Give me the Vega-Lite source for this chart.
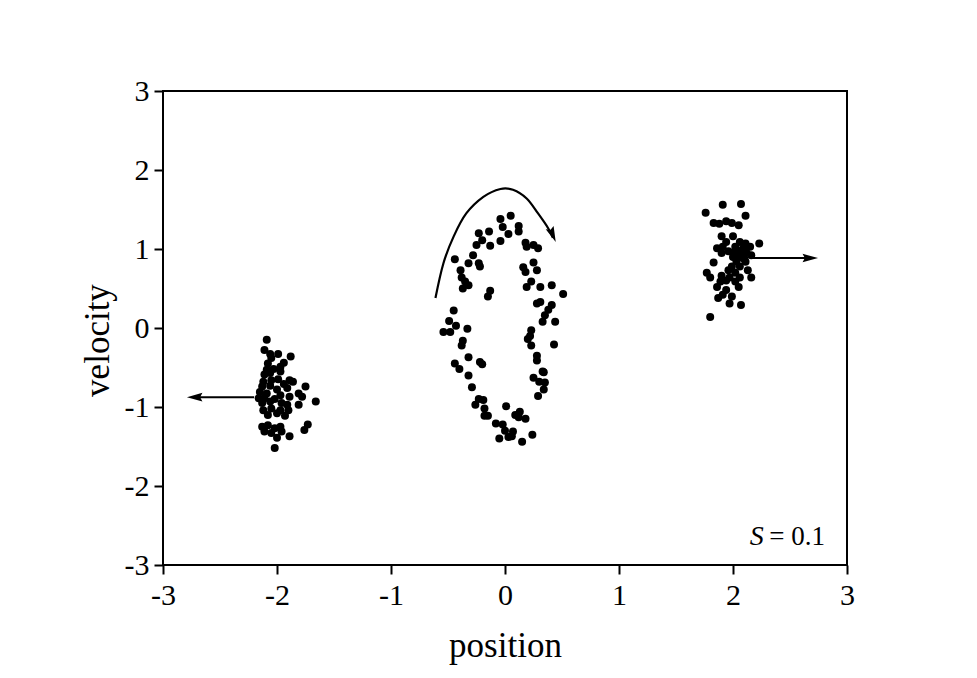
{
  "$schema": "https://vega.github.io/schema/vega-lite/v6.json",
  "width": 684,
  "height": 474,
  "autosize": "none",
  "padding": {"left": 163, "top": 91, "right": 130, "bottom": 113},
  "config": {
    "view": {"stroke": "black", "strokeWidth": 2},
    "font": "Liberation Serif"
  },
  "datasets": {
    "pts": [
      {"x":0.05,"y":1.42},{"x":-0.04,"y":1.38},{"x":-0.02,"y":1.28},{"x":0.12,"y":1.29},{"x":0.12,"y":1.22},{"x":0.03,"y":1.19},{"x":-0.14,"y":1.22},{"x":-0.23,"y":1.20},{"x":-0.20,"y":1.11},{"x":-0.04,"y":1.10},{"x":-0.25,"y":1.05},{"x":-0.13,"y":1.04},{"x":0.18,"y":1.08},{"x":0.19,"y":1.03},{"x":0.25,"y":1.05},{"x":0.29,"y":1.01},{"x":-0.28,"y":0.92},{"x":-0.44,"y":0.87},{"x":-0.32,"y":0.82},{"x":-0.23,"y":0.82},{"x":-0.22,"y":0.78},{"x":0.25,"y":0.83},{"x":0.16,"y":0.77},{"x":0.28,"y":0.73},{"x":0.18,"y":0.71},{"x":-0.39,"y":0.73},{"x":-0.38,"y":0.64},{"x":-0.35,"y":0.59},{"x":-0.32,"y":0.54},{"x":-0.37,"y":0.50},{"x":0.23,"y":0.59},{"x":0.19,"y":0.52},{"x":0.31,"y":0.52},{"x":0.41,"y":0.54},{"x":0.51,"y":0.43},{"x":-0.13,"y":0.47},{"x":-0.15,"y":0.40},{"x":-0.45,"y":0.22},{"x":0.31,"y":0.33},{"x":0.28,"y":0.31},{"x":0.41,"y":0.29},{"x":0.38,"y":0.23},{"x":0.35,"y":0.16},{"x":-0.49,"y":0.09},{"x":-0.43,"y":0.03},{"x":-0.54,"y":-0.05},{"x":-0.48,"y":-0.05},{"x":-0.33,"y":-0.01},{"x":-0.37,"y":-0.16},{"x":-0.38,"y":-0.22},{"x":-0.32,"y":-0.37},{"x":-0.44,"y":-0.45},{"x":-0.40,"y":-0.52},{"x":-0.22,"y":-0.43},{"x":-0.20,"y":-0.46},{"x":-0.32,"y":-0.60},{"x":-0.29,"y":-0.75},{"x":-0.23,"y":-0.90},{"x":-0.19,"y":-0.91},{"x":-0.26,"y":-0.97},{"x":-0.18,"y":-1.02},{"x":-0.18,"y":-1.11},{"x":-0.15,"y":-1.11},{"x":0.01,"y":-0.99},{"x":0.13,"y":-1.06},{"x":0.09,"y":-1.10},{"x":0.12,"y":-1.13},{"x":0.18,"y":-1.15},{"x":-0.08,"y":-1.21},{"x":-0.02,"y":-1.22},{"x":0.00,"y":-1.30},{"x":0.07,"y":-1.31},{"x":0.03,"y":-1.38},{"x":-0.05,"y":-1.40},{"x":0.06,"y":-1.37},{"x":0.15,"y":-1.44},{"x":0.24,"y":-1.35},{"x":0.33,"y":0.08},{"x":0.44,"y":0.08},{"x":0.23,"y":-0.03},{"x":0.22,"y":-0.10},{"x":0.20,"y":-0.14},{"x":0.23,"y":-0.22},{"x":0.43,"y":-0.21},{"x":0.28,"y":-0.35},{"x":0.28,"y":-0.41},{"x":0.33,"y":-0.55},{"x":0.34,"y":-0.56},{"x":0.25,"y":-0.63},{"x":0.30,"y":-0.68},{"x":0.35,"y":-0.69},{"x":0.34,"y":-0.78},{"x":0.29,"y":-0.86},
      {"x":-2.09,"y":-0.15},{"x":-2.11,"y":-0.28},{"x":-2.06,"y":-0.33},{"x":-1.99,"y":-0.33},{"x":-1.88,"y":-0.36},{"x":-2.05,"y":-0.38},{"x":-1.94,"y":-0.44},{"x":-2.08,"y":-0.45},{"x":-1.97,"y":-0.49},{"x":-2.09,"y":-0.53},{"x":-2.03,"y":-0.52},{"x":-2.11,"y":-0.59},{"x":-2.06,"y":-0.57},{"x":-1.97,"y":-0.55},{"x":-2.12,"y":-0.68},{"x":-2.05,"y":-0.66},{"x":-1.99,"y":-0.65},{"x":-1.89,"y":-0.66},{"x":-1.86,"y":-0.68},{"x":-2.13,"y":-0.74},{"x":-2.06,"y":-0.73},{"x":-1.94,"y":-0.71},{"x":-1.91,"y":-0.76},{"x":-1.75,"y":-0.74},{"x":-2.15,"y":-0.81},{"x":-2.09,"y":-0.83},{"x":-2.00,"y":-0.78},{"x":-1.97,"y":-0.85},{"x":-1.81,"y":-0.83},{"x":-2.16,"y":-0.89},{"x":-2.11,"y":-0.89},{"x":-2.02,"y":-0.90},{"x":-1.89,"y":-0.87},{"x":-1.78,"y":-0.87},{"x":-1.66,"y":-0.93},{"x":-2.13,"y":-0.95},{"x":-2.06,"y":-0.93},{"x":-1.96,"y":-0.95},{"x":-1.91,"y":-0.97},{"x":-1.81,"y":-0.97},{"x":-2.12,"y":-1.04},{"x":-2.05,"y":-1.02},{"x":-1.97,"y":-1.04},{"x":-1.90,"y":-1.04},{"x":-2.08,"y":-1.10},{"x":-2.00,"y":-1.08},{"x":-1.93,"y":-1.11},{"x":-2.13,"y":-1.25},{"x":-2.08,"y":-1.23},{"x":-2.02,"y":-1.27},{"x":-1.97,"y":-1.25},{"x":-1.73,"y":-1.22},{"x":-1.76,"y":-1.29},{"x":-2.11,"y":-1.31},{"x":-2.05,"y":-1.33},{"x":-1.96,"y":-1.31},{"x":-2.00,"y":-1.39},{"x":-1.89,"y":-1.37},{"x":-2.02,"y":-1.52},
      {"x":1.91,"y":1.56},{"x":2.07,"y":1.57},{"x":1.76,"y":1.46},{"x":2.11,"y":1.42},{"x":1.83,"y":1.33},{"x":1.88,"y":1.32},{"x":1.94,"y":1.35},{"x":1.99,"y":1.33},{"x":2.05,"y":1.30},{"x":1.90,"y":1.16},{"x":2.00,"y":1.16},{"x":1.94,"y":1.09},{"x":2.06,"y":1.09},{"x":2.11,"y":1.07},{"x":2.23,"y":1.07},{"x":1.86,"y":1.01},{"x":1.91,"y":1.03},{"x":2.02,"y":1.03},{"x":2.09,"y":1.01},{"x":2.15,"y":1.03},{"x":1.90,"y":0.95},{"x":1.96,"y":0.97},{"x":2.05,"y":0.97},{"x":2.12,"y":0.95},{"x":2.16,"y":0.92},{"x":2.00,"y":0.90},{"x":2.09,"y":0.90},{"x":1.83,"y":0.83},{"x":2.03,"y":0.84},{"x":2.11,"y":0.84},{"x":1.99,"y":0.78},{"x":2.06,"y":0.78},{"x":1.96,"y":0.73},{"x":2.13,"y":0.73},{"x":1.77,"y":0.70},{"x":2.02,"y":0.70},{"x":1.80,"y":0.64},{"x":1.90,"y":0.66},{"x":1.97,"y":0.64},{"x":2.06,"y":0.64},{"x":2.16,"y":0.64},{"x":1.89,"y":0.59},{"x":1.94,"y":0.60},{"x":2.02,"y":0.59},{"x":1.86,"y":0.52},{"x":2.05,"y":0.52},{"x":1.94,"y":0.48},{"x":1.91,"y":0.42},{"x":1.99,"y":0.40},{"x":1.87,"y":0.38},{"x":1.97,"y":0.31},{"x":2.07,"y":0.29},{"x":1.80,"y":0.14},{"x":2.08,"y":0.93},{"x":2.04,"y":0.88},{"x":2.10,"y":0.98},{"x":2.06,"y":0.95},{"x":2.01,"y":0.96},{"x":2.10,"y":0.87},{"x":2.03,"y":0.99}
    ],
    "arc": [
      {"o":1,"x":-0.61,"y":0.38},{"o":2,"x":-0.54,"y":0.82},{"o":3,"x":-0.45,"y":1.16},{"o":4,"x":-0.34,"y":1.45},{"o":5,"x":-0.19,"y":1.66},{"o":6,"x":-0.04,"y":1.76},{"o":7,"x":0.07,"y":1.75},{"o":8,"x":0.19,"y":1.64},{"o":9,"x":0.29,"y":1.45},{"o":10,"x":0.38,"y":1.26},{"o":11,"x":0.42,"y":1.14}
    ],
    "arrows": [
      {"x":-2.2,"x2":-2.7,"y":-0.875},
      {"x":2.15,"x2":2.68,"y":0.885}
    ],
    "heads": [
      {"x":-2.79,"y":-0.875,"angle":180},
      {"x":2.746,"y":0.885,"angle":0},
      {"x":0.445,"y":1.09,"angle":67}
    ]
  },
  "layer": [
    {
      "data": {"name": "pts"},
      "mark": {"type": "circle", "size": 64, "color": "black", "opacity": 1},
      "encoding": {
        "x": {"field": "x", "type": "quantitative", "scale": {"domain": [-3, 3]},
              "axis": {"values": [-3,-2,-1,0,1,2,3], "labelExpr": "'' + datum.value", "title": "position", "labelFlush": false,
                       "grid": false, "domain": false, "tickColor": "black", "tickWidth": 2, "tickSize": 9,
                       "labelFont": "Liberation Serif", "labelFontSize": 30, "labelColor": "black", "labelPadding": 6,
                       "titleFont": "Liberation Serif", "titleFontSize": 35, "titleFontWeight": "normal", "titleColor": "black", "titlePadding": 18}},
        "y": {"field": "y", "type": "quantitative", "scale": {"domain": [-3, 3]},
              "axis": {"values": [-3,-2,-1,0,1,2,3], "labelExpr": "'' + datum.value", "title": "velocity", "labelFlush": false,
                       "grid": false, "domain": false, "tickColor": "black", "tickWidth": 2, "tickSize": 9,
                       "labelFont": "Liberation Serif", "labelFontSize": 30, "labelColor": "black", "labelPadding": 5,
                       "titleFont": "Liberation Serif", "titleFontSize": 35, "titleFontWeight": "normal", "titleColor": "black", "titlePadding": 9, "titleY": 249}}
      }
    },
    {
      "data": {"name": "arc"},
      "mark": {"type": "line", "color": "black", "strokeWidth": 2.2, "interpolate": "cardinal"},
      "encoding": {
        "x": {"field": "x", "type": "quantitative"},
        "y": {"field": "y", "type": "quantitative"},
        "order": {"field": "o", "type": "quantitative"}
      }
    },
    {
      "data": {"name": "arrows"},
      "mark": {"type": "rule", "color": "black", "strokeWidth": 2},
      "encoding": {
        "x": {"field": "x", "type": "quantitative"},
        "x2": {"field": "x2"},
        "y": {"field": "y", "type": "quantitative"}
      }
    },
    {
      "data": {"name": "heads"},
      "mark": {"type": "point", "filled": true, "color": "black", "opacity": 1, "size": 240, "strokeWidth": 0,
               "shape": "M0,0L-2,-0.55L-1.7,0L-2,0.55Z"},
      "encoding": {
        "x": {"field": "x", "type": "quantitative"},
        "y": {"field": "y", "type": "quantitative"},
        "angle": {"field": "angle", "type": "quantitative", "scale": null}
      }
    },
    {
      "data": {"values": [{"x": 2.27, "y": -2.75, "t": "S"}]},
      "mark": {"type": "text", "align": "right", "baseline": "alphabetic", "fontSize": 28, "fontStyle": "italic", "font": "Liberation Serif", "color": "black"},
      "encoding": {
        "x": {"field": "x", "type": "quantitative"},
        "y": {"field": "y", "type": "quantitative"},
        "text": {"field": "t"}
      }
    },
    {
      "data": {"values": [{"x": 2.318, "y": -2.75, "t": "= 0.1"}]},
      "mark": {"type": "text", "align": "left", "baseline": "alphabetic", "fontSize": 27, "font": "Liberation Serif", "color": "black"},
      "encoding": {
        "x": {"field": "x", "type": "quantitative"},
        "y": {"field": "y", "type": "quantitative"},
        "text": {"field": "t"}
      }
    }
  ]
}
